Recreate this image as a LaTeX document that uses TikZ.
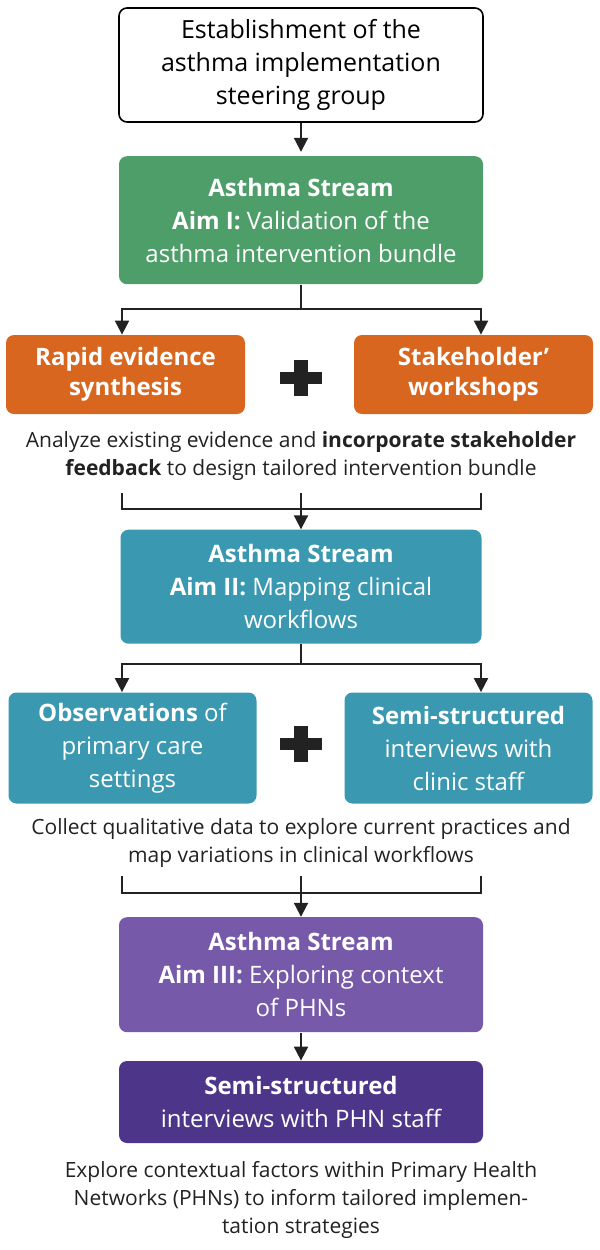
\documentclass[tikz,border=0pt]{standalone}
\usepackage{fontspec}
\setmainfont{Open Sans}
\usetikzlibrary{arrows.meta,positioning}

\definecolor{aimgreen}{HTML}{4E9E6A}
\definecolor{aimorange}{HTML}{D9661E}
\definecolor{aimteal}{HTML}{3A98B0}
\definecolor{aimpurple}{HTML}{7659A9}
\definecolor{aimdeep}{HTML}{4D3589}
\definecolor{inkgrey}{HTML}{222222}

\begin{document}
\begin{tikzpicture}[
    stage/.style={rounded corners=4pt, align=center, text=white, inner sep=2pt,
        font=\fontsize{12}{16.5}\selectfont},
    wide/.style={minimum width=182pt},
    half/.style={minimum width=124pt},
    note/.style={align=center, inner sep=0pt, text=inkgrey,
        font=\fontsize{10.5}{14}\selectfont},
    arrow/.style={-{Triangle[width=7pt,length=7pt]}, line width=1pt, draw=inkgrey},
    link/.style={line width=1pt, draw=inkgrey},
    plusfill/.style={fill=inkgrey}
]
\useasboundingbox (0,0) rectangle (300pt,-625pt);

% columns of the branch arrows
\coordinate (colL) at (61pt,0);
\coordinate (colR) at (240.5pt,0);

% Aim I
\node[stage, wide, draw=black, line width=0.8pt, fill=white, text=black, minimum height=57pt,
    font=\fontsize{12.5}{16.5}\selectfont]
    (steer) at (150.5pt,-32.5pt) {Establishment of the\\asthma implementation\\steering group};
\node[stage, wide, fill=aimgreen, minimum height=64pt, below=16.5pt of steer] (aimone)
    {\textbf{Asthma Stream}\\\textbf{Aim I:} Validation of the\\asthma intervention bundle};
\node[stage, minimum width=119.5pt, minimum height=39.5pt, fill=aimorange,
    font=\bfseries\fontsize{12}{15}\selectfont,
    below=25pt of aimone.south, xshift=-87.75pt] (rapid) {Rapid evidence\\synthesis};
\node[stage, minimum width=119.5pt, minimum height=39.5pt, fill=aimorange,
    font=\bfseries\fontsize{12}{15}\selectfont,
    below=25pt of aimone.south, xshift=86.25pt] (workshop) {Stakeholder’\\workshops};
\node[inner sep=0pt, minimum size=1pt, yshift=-1.5pt] (plus1) at (rapid -| aimone) {};
\node[note, yshift=-21pt] (note1) at (aimone |- rapid.south)
    {Analyze existing evidence and \textbf{incorporate stakeholder}\\
     \textbf{feedback} to design tailored intervention bundle};
\coordinate[below=6pt of note1.south] (gap1);
\coordinate[below=8pt of gap1] (join1);

% Aim II
\node[stage, minimum width=180.5pt, minimum height=57pt, fill=aimteal, below=18pt of gap1] (aimtwo)
    {\textbf{Asthma Stream}\\\textbf{Aim II:} Mapping clinical\\workflows};
\node[stage, half, minimum height=55.5pt, fill=aimteal,
    below=24pt of aimtwo.south, xshift=-84.25pt] (observe)
    {\textbf{Observations} of\\primary care\\settings};
\node[stage, half, minimum height=55.5pt, fill=aimteal,
    below=24pt of aimtwo.south, xshift=83.75pt] (clinic)
    {\textbf{Semi-structured}\\interviews with\\clinic staff};
\node[inner sep=0pt, minimum size=1pt, yshift=2pt] (plus2) at (observe -| aimtwo) {};
\node[note, yshift=-19.5pt] (note2) at (aimtwo |- observe.south)
    {Collect qualitative data to explore current practices and\\
     map variations in clinical workflows};
\coordinate[below=4pt of note2.south] (gap2);
\coordinate[below=8.5pt of gap2] (join2);

% Aim III
\node[stage, wide, minimum height=57.5pt, fill=aimpurple, below=20.5pt of gap2] (aimthree)
    {\textbf{Asthma Stream}\\\textbf{Aim III:} Exploring context\\of PHNs};
\node[stage, wide, minimum height=41pt, fill=aimdeep, below=14pt of aimthree] (phn)
    {\textbf{Semi-structured}\\interviews with PHN staff};
\node[note, below=9pt of phn] (note3)
    {Explore contextual factors within Primary Health\\
     Networks (PHNs) to inform tailored implemen-\\
     tation strategies};

% plus signs
\foreach \p in {plus1,plus2} {
    \fill[plusfill] ([xshift=-10.5pt,yshift=-3pt]\p.center) rectangle ++(21pt,6pt);
    \fill[plusfill] ([xshift=-3.5pt,yshift=-9pt]\p.center) rectangle ++(7pt,18pt);
}

% connectors
\draw[arrow, shorten >=2pt] (steer) -- (aimone);
\draw[arrow] (aimone.south) -- ++(0,-12pt) -| (colL |- rapid.north);
\draw[arrow] (aimone.south) -- ++(0,-12pt) -| (colR |- workshop.north);
\draw[link] (colL |- gap1) |- (join1) -| (colR |- gap1);
\draw[arrow] (gap1) -- (aimtwo);
\draw[arrow] (aimtwo.south) -- ++(0,-10pt) -| (colL |- observe.north);
\draw[arrow] (aimtwo.south) -- ++(0,-10pt) -| (colR |- clinic.north);
\draw[link] (colL |- gap2) |- (join2) -| (colR |- gap2);
\draw[arrow] (gap2) -- (aimthree);
\draw[arrow] (aimthree) -- (phn);
\end{tikzpicture}
\end{document}
